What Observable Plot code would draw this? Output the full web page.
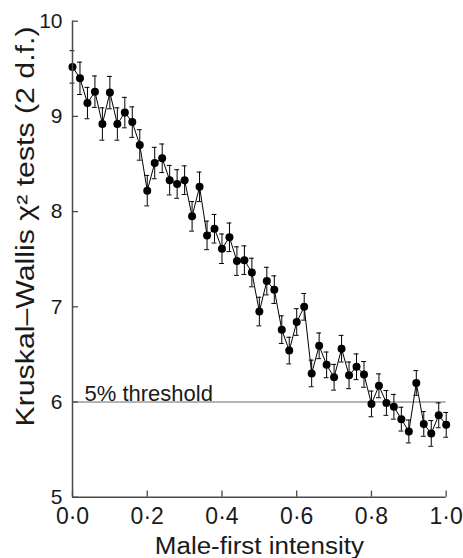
<!DOCTYPE html>
<html><head><meta charset="utf-8">
<script src="https://cdn.jsdelivr.net/npm/d3@7"></script>
<script src="https://cdn.jsdelivr.net/npm/@observablehq/plot@0.6"></script>
<style>body{margin:0;background:#fff} #chart svg{display:block}</style>
</head><body><div id="chart"></div>
<script>
const intensity = [0, 0.02, 0.04, 0.06, 0.08, 0.10, 0.12, 0.14, 0.16, 0.18,
  0.20, 0.22, 0.24, 0.26, 0.28, 0.30, 0.32, 0.34, 0.36, 0.38,
  0.40, 0.42, 0.44, 0.46, 0.48, 0.50, 0.52, 0.54, 0.56, 0.58,
  0.60, 0.62, 0.64, 0.66, 0.68, 0.70, 0.72, 0.74, 0.76, 0.78,
  0.80, 0.82, 0.84, 0.86, 0.88, 0.90, 0.92, 0.94, 0.96, 0.98, 1.00];
const chiSq = [9.52, 9.40, 9.14, 9.26, 8.92, 9.25, 8.92, 9.04, 8.94, 8.70,
  8.22, 8.51, 8.56, 8.33, 8.29, 8.33, 7.95, 8.26, 7.75, 7.82,
  7.61, 7.73, 7.48, 7.49, 7.36, 6.95, 7.27, 7.18, 6.76, 6.54,
  6.84, 7.00, 6.30, 6.59, 6.39, 6.26, 6.56, 6.28, 6.37, 6.29,
  5.98, 6.17, 5.99, 5.95, 5.82, 5.69, 6.20, 5.77, 5.67, 5.86, 5.76];
const stdErr = [0.17, 0.17, 0.165, 0.165, 0.17, 0.17, 0.17, 0.16, 0.16, 0.16,
  0.16, 0.165, 0.15, 0.155, 0.15, 0.15, 0.155, 0.155, 0.15, 0.15,
  0.155, 0.15, 0.15, 0.15, 0.15, 0.15, 0.145, 0.145, 0.145, 0.14,
  0.14, 0.14, 0.14, 0.135, 0.135, 0.135, 0.14, 0.14, 0.135, 0.135,
  0.135, 0.125, 0.13, 0.13, 0.125, 0.12, 0.13, 0.13, 0.135, 0.13, 0.13];
const xTicks = [0, 0.2, 0.4, 0.6, 0.8, 1.0];
const xTickLabels = ["0·0", "0·2", "0·4", "0·6", "0·8", "1·0"];
const yTicks = [5, 6, 7, 8, 9, 10];
const yTickLabels = ["5", "6", "7", "8", "9", "10"];
const thresholdValue = 6;
const thresholdLabel = "5% threshold";
const xLabel = "Male-first intensity";
const yLabel = "Kruskal–Wallis χ² tests (2 d.f.)";

const data = intensity.map((x, i) => ({x, y: chiSq[i], se: stdErr[i]}));
const capHalf = 0.0065;
const lookup = (ticks, labels) => d => labels[ticks.findIndex(t => Math.abs(t - d) < 1e-9)];
const axisColor = "#4a4a4a";

const plot = Plot.plot({
  width: 463, height: 558,
  marginLeft: 72, marginRight: 17.3, marginTop: 20.7, marginBottom: 61.3,
  style: {fontFamily: "'Liberation Sans', Arial, sans-serif", fontSize: "22px", color: "#1a1a1a", background: "#fff", overflow: "visible"},
  x: {domain: [0, 1]},
  y: {domain: [5, 10]},
  marks: [
    Plot.ruleY([thresholdValue], {stroke: "#6a6a6a", strokeWidth: 1.2}),
    Plot.text([thresholdLabel], {y: () => thresholdValue, frameAnchor: "left", dx: 12, dy: -1.5, textAnchor: "start", lineAnchor: "bottom", fontSize: 22, fill: "#1a1a1a"}),
    Plot.ruleX(data, {x: "x", y1: d => d.y - d.se, y2: d => d.y + d.se, stroke: "black", strokeWidth: 1}),
    Plot.ruleY(data, {y: d => d.y + d.se, x1: d => d.x - capHalf, x2: d => d.x + capHalf, stroke: "black", strokeWidth: 1}),
    Plot.ruleY(data, {y: d => d.y - d.se, x1: d => d.x - capHalf, x2: d => d.x + capHalf, stroke: "black", strokeWidth: 1}),
    Plot.line(data, {x: "x", y: "y", stroke: "black", strokeWidth: 1}),
    Plot.dot(data, {x: "x", y: "y", r: 4, fill: "black", stroke: "none"}),
    Plot.ruleX([0], {stroke: axisColor, strokeWidth: 1.5}),
    Plot.ruleY([5], {stroke: axisColor, strokeWidth: 1.5}),
    Plot.ruleX(xTicks, {y1: 5, y2: 5.065, stroke: axisColor, strokeWidth: 1.3}),
    Plot.ruleY(yTicks, {x1: 0, x2: 0.016, stroke: axisColor, strokeWidth: 1.3}),
    Plot.axisX({ticks: xTicks, tickSize: 0, tickPadding: 10, tickFormat: lookup(xTicks, xTickLabels), label: null, fontSize: 23}),
    Plot.axisY({ticks: yTicks, tickSize: 0, tickPadding: 10, tickFormat: lookup(yTicks, yTickLabels), label: null, fontSize: 21}),
    Plot.text([xLabel], {frameAnchor: "bottom", dy: 49, lineAnchor: "middle", textAnchor: "middle", fontSize: 23, fill: "#1a1a1a"}),
    Plot.text([yLabel], {frameAnchor: "left", rotate: -90, dx: -47, dy: -32.7, lineAnchor: "middle", textAnchor: "middle", fontSize: 25, fill: "#1a1a1a"})
  ]
});
document.getElementById("chart").appendChild(plot);
const svg = d3.select(plot);
svg.selectAll("text").filter(function(){ return this.textContent === yLabel; })
  .attr("textLength", 400).attr("lengthAdjust", "spacingAndGlyphs");
svg.selectAll("text").filter(function(){ return this.textContent === xLabel; })
  .attr("textLength", 209).attr("lengthAdjust", "spacingAndGlyphs");
</script>
</body></html>
